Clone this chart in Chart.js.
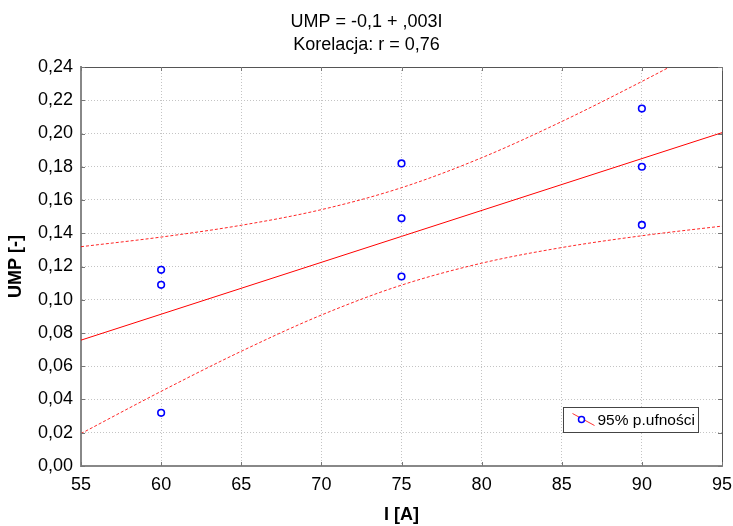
<!DOCTYPE html>
<html lang="pl">
  <head>
    <meta charset="UTF-8" />
    <title>UMP vs I</title>
    <script src="https://cdn.jsdelivr.net/npm/chart.js"></script>
    <style>
      body { margin: 0; background: #fff; }
      #wrap { width: 733px; height: 526px; }
    </style>
  </head>
  <body>
    <div id="wrap"><canvas id="chart"></canvas></div>

    <script>
      // measured points (I [A], UMP [-])
      const currentI = [60, 60, 60, 75, 75, 75, 90, 90, 90];
      const umpValues = [0.118, 0.109, 0.032, 0.182, 0.149, 0.114, 0.215, 0.18, 0.145];

      // regression line ends and 95% band
      const lineX = [55, 95];
      const lineY = [0.0757, 0.2005];
      const bandX = [55, 60, 65, 70, 75, 80, 85, 90, 95];
      const bandUpper = [0.1319, 0.1377, 0.1448, 0.1542, 0.1674, 0.1854, 0.2072, 0.2313, 0.2567];
      const bandLower = [0.0195, 0.0449, 0.069, 0.0908, 0.1088, 0.122, 0.1314, 0.1385, 0.1443];

      const xTicks = [55, 60, 65, 70, 75, 80, 85, 90, 95];
      const yTicks = [0, 0.02, 0.04, 0.06, 0.08, 0.1, 0.12, 0.14, 0.16, 0.18, 0.2, 0.22, 0.24];

      const FONT = "'Liberation Sans', Arial, sans-serif";
      const toXY = (xs, ys) => xs.map((x, i) => ({ x: x, y: ys[i] }));

      // frame, inside ticks and legend box
      const framePlugin = {
        id: "frame",
        afterDatasetsDraw(chart) {
          const ctx = chart.ctx;
          const a = chart.chartArea;
          const xs = chart.scales.x;
          const ys = chart.scales.y;
          ctx.save();
          ctx.strokeStyle = "#555";
          ctx.lineWidth = 1;
          ctx.beginPath();
          ctx.moveTo(a.left, a.top + 0.5);
          ctx.lineTo(a.right + 0.5, a.top + 0.5);
          ctx.lineTo(a.right + 0.5, a.bottom);
          ctx.stroke();

          ctx.strokeStyle = "#777";
          ctx.beginPath();
          xTicks.forEach((v) => {
            const px = Math.round(xs.getPixelForValue(v)) + 0.5;
            ctx.moveTo(px, a.bottom);
            ctx.lineTo(px, a.bottom - 4);
            ctx.moveTo(px, a.top);
            ctx.lineTo(px, a.top + 4);
          });
          yTicks.forEach((v) => {
            const py = Math.round(ys.getPixelForValue(v)) + 0.5;
            ctx.moveTo(a.left, py);
            ctx.lineTo(a.left + 4, py);
            ctx.moveTo(a.right, py);
            ctx.lineTo(a.right - 4, py);
          });
          ctx.stroke();

          // legend
          const bx = Math.round(a.right - 159) + 0.5;
          const by = Math.round(a.bottom - 59) + 0.5;
          ctx.fillStyle = "#fff";
          ctx.fillRect(bx, by, 135, 25);
          ctx.strokeStyle = "#444";
          ctx.strokeRect(bx, by, 135, 25);
          ctx.strokeStyle = "rgba(255,0,0,0.8)";
          ctx.beginPath();
          ctx.moveTo(bx + 9, by + 6);
          ctx.lineTo(bx + 31, by + 18);
          ctx.stroke();
          ctx.fillStyle = "#fff";
          ctx.strokeStyle = "#0000ff";
          ctx.lineWidth = 1.5;
          ctx.beginPath();
          ctx.arc(bx + 18, by + 12, 3, 0, Math.PI * 2);
          ctx.fill();
          ctx.stroke();
          ctx.fillStyle = "#000";
          ctx.font = "15.5px " + FONT;
          ctx.textBaseline = "middle";
          ctx.fillText("95% p.ufności", bx + 34, by + 13);
          ctx.restore();
        },
      };

      new Chart(document.getElementById("chart"), {
        type: "scatter",
        data: {
          datasets: [
            {
              label: "punkty",
              data: toXY(currentI, umpValues),
              pointStyle: "circle",
              pointRadius: 3.3,
              pointBorderWidth: 1.6,
              pointBorderColor: "#0000ff",
              pointBackgroundColor: "#fff",
              order: 0,
            },
            {
              label: "regresja",
              data: toXY(lineX, lineY),
              showLine: true,
              borderColor: "#ff0000",
              borderWidth: 1,
              pointRadius: 0,
              order: 1,
            },
            {
              label: "górna",
              data: toXY(bandX, bandUpper),
              showLine: true,
              borderColor: "rgba(255,0,0,0.85)",
              borderWidth: 1,
              borderDash: [3, 2],
              cubicInterpolationMode: "monotone",
              pointRadius: 0,
              order: 2,
            },
            {
              label: "dolna",
              data: toXY(bandX, bandLower),
              showLine: true,
              borderColor: "rgba(255,0,0,0.85)",
              borderWidth: 1,
              borderDash: [3, 2],
              cubicInterpolationMode: "monotone",
              pointRadius: 0,
              order: 2,
            },
          ],
        },
        options: {
          responsive: true,
          maintainAspectRatio: false,
          animation: false,
          layout: { padding: { left: 0, right: 0, top: 0, bottom: 0 } },
          plugins: {
            legend: { display: false },
            tooltip: { enabled: false },
            title: {
              display: true,
              text: ["UMP = -0,1 + ,003I", "Korelacja: r = 0,76"],
              color: "#000",
              font: { family: FONT, size: 18, weight: "normal", lineHeight: 1.25 },
              padding: { top: 11, bottom: 11 },
            },
          },
          scales: {
            x: {
              type: "linear",
              min: 55,
              max: 95,
              afterBuildTicks: (s) => { s.ticks = xTicks.map((v) => ({ value: v })); },
              afterFit: (s) => {
                s.height = 60;
                s.paddingLeft = 0;
                s.paddingRight = 11;
              },
              ticks: {
                color: "#000",
                padding: 8,
                font: { family: FONT, size: 18 },
                callback: (v) => String(v),
              },
              grid: { color: "#c4c4c4", drawTicks: false },
              border: { color: "#888", width: 2, dash: [1, 2] },
              title: {
                display: true,
                text: "I [A]",
                color: "#000",
                font: { family: FONT, size: 18, weight: "bold" },
                padding: { top: 5, bottom: 0 },
              },
            },
            y: {
              type: "linear",
              min: 0,
              max: 0.24,
              afterBuildTicks: (s) => { s.ticks = yTicks.map((v) => ({ value: v })); },
              afterFit: (s) => { s.width = 81; },
              ticks: {
                color: "#000",
                padding: 8,
                font: { family: FONT, size: 18 },
                callback: (v) => v.toFixed(2).replace(".", ","),
              },
              grid: { color: "#c4c4c4", drawTicks: false },
              border: { color: "#888", width: 2, dash: [1, 2] },
              title: {
                display: true,
                text: "UMP [-]",
                color: "#000",
                font: { family: FONT, size: 18, weight: "bold" },
                padding: { top: 5, bottom: 0 },
              },
            },
          },
        },
        plugins: [framePlugin],
      });
    </script>
  </body>
</html>
